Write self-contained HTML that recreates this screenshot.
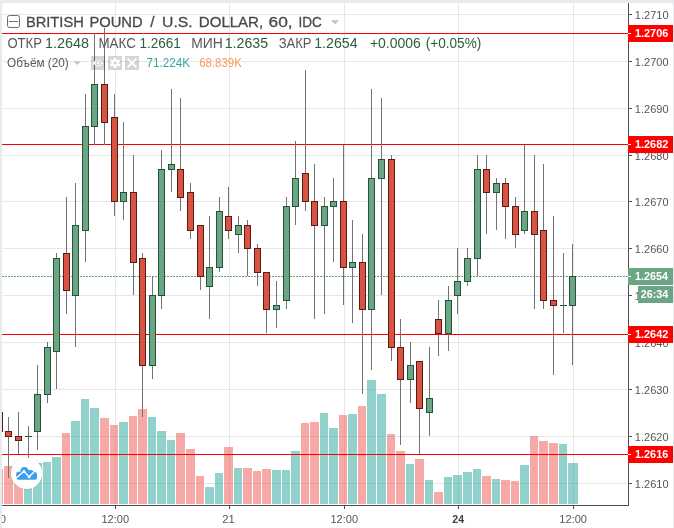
<!DOCTYPE html>
<html><head><meta charset="utf-8"><title>GBPUSD</title>
<style>html,body{margin:0;padding:0;background:#e7ebee;overflow:hidden;}body{width:674px;height:528px;font-family:"Liberation Sans",sans-serif;}svg{display:block;will-change:transform;}</style></head>
<body>
<svg width="674" height="528" viewBox="0 0 674 528" font-family="Liberation Sans, sans-serif">
<rect x="0" y="0" width="674" height="528" fill="#e7ebee"/>
<path d="M2 531V6a3 3 0 0 1 3-3H670a3 3 0 0 1 3 3V531Z" fill="#ffffff"/>
<g shape-rendering="crispEdges">
<rect x="3" y="14" width="624" height="1" fill="#e6e6e6"/>
<rect x="3" y="61" width="624" height="1" fill="#e6e6e6"/>
<rect x="3" y="108" width="624" height="1" fill="#e6e6e6"/>
<rect x="3" y="155" width="624" height="1" fill="#e6e6e6"/>
<rect x="3" y="201" width="624" height="1" fill="#e6e6e6"/>
<rect x="3" y="248" width="624" height="1" fill="#e6e6e6"/>
<rect x="3" y="295" width="624" height="1" fill="#e6e6e6"/>
<rect x="3" y="342" width="624" height="1" fill="#e6e6e6"/>
<rect x="3" y="389" width="624" height="1" fill="#e6e6e6"/>
<rect x="3" y="436" width="624" height="1" fill="#e6e6e6"/>
<rect x="3" y="483" width="624" height="1" fill="#e6e6e6"/>
<rect x="115" y="3" width="1" height="502" fill="#e6e6e6"/>
<rect x="229" y="3" width="1" height="502" fill="#e6e6e6"/>
<rect x="344" y="3" width="1" height="502" fill="#e6e6e6"/>
<rect x="458" y="3" width="1" height="502" fill="#e6e6e6"/>
<rect x="573" y="3" width="1" height="502" fill="#e6e6e6"/>
<rect x="2" y="469" width="1" height="35" fill="#ef5350" fill-opacity="0.5"/>
<rect x="4" y="466" width="9" height="38" fill="#ef5350" fill-opacity="0.5"/>
<rect x="14" y="467" width="9" height="37" fill="#ef5350" fill-opacity="0.5"/>
<rect x="24" y="465" width="8" height="39" fill="#26a69a" fill-opacity="0.5"/>
<rect x="33" y="463" width="9" height="41" fill="#26a69a" fill-opacity="0.5"/>
<rect x="43" y="462" width="8" height="42" fill="#26a69a" fill-opacity="0.5"/>
<rect x="52" y="457" width="9" height="47" fill="#26a69a" fill-opacity="0.5"/>
<rect x="62" y="433" width="8" height="71" fill="#ef5350" fill-opacity="0.5"/>
<rect x="71" y="421" width="9" height="83" fill="#26a69a" fill-opacity="0.5"/>
<rect x="81" y="399" width="8" height="105" fill="#26a69a" fill-opacity="0.5"/>
<rect x="90" y="408" width="9" height="96" fill="#26a69a" fill-opacity="0.5"/>
<rect x="100" y="418" width="9" height="86" fill="#ef5350" fill-opacity="0.5"/>
<rect x="110" y="425" width="8" height="79" fill="#ef5350" fill-opacity="0.5"/>
<rect x="119" y="422" width="9" height="82" fill="#26a69a" fill-opacity="0.5"/>
<rect x="129" y="416" width="8" height="88" fill="#ef5350" fill-opacity="0.5"/>
<rect x="138" y="409" width="9" height="95" fill="#ef5350" fill-opacity="0.5"/>
<rect x="148" y="417" width="8" height="87" fill="#26a69a" fill-opacity="0.5"/>
<rect x="157" y="431" width="9" height="73" fill="#26a69a" fill-opacity="0.5"/>
<rect x="167" y="440" width="8" height="64" fill="#26a69a" fill-opacity="0.5"/>
<rect x="176" y="433" width="9" height="71" fill="#ef5350" fill-opacity="0.5"/>
<rect x="186" y="449" width="9" height="55" fill="#ef5350" fill-opacity="0.5"/>
<rect x="196" y="476" width="8" height="28" fill="#ef5350" fill-opacity="0.5"/>
<rect x="205" y="487" width="9" height="17" fill="#26a69a" fill-opacity="0.5"/>
<rect x="215" y="473" width="8" height="31" fill="#26a69a" fill-opacity="0.5"/>
<rect x="224" y="447" width="9" height="57" fill="#ef5350" fill-opacity="0.5"/>
<rect x="234" y="468" width="8" height="36" fill="#26a69a" fill-opacity="0.5"/>
<rect x="243" y="468" width="9" height="36" fill="#ef5350" fill-opacity="0.5"/>
<rect x="253" y="471" width="8" height="33" fill="#ef5350" fill-opacity="0.5"/>
<rect x="262" y="469" width="9" height="35" fill="#ef5350" fill-opacity="0.5"/>
<rect x="272" y="470" width="9" height="34" fill="#26a69a" fill-opacity="0.5"/>
<rect x="282" y="470" width="8" height="34" fill="#26a69a" fill-opacity="0.5"/>
<rect x="291" y="451" width="9" height="53" fill="#26a69a" fill-opacity="0.5"/>
<rect x="301" y="423" width="8" height="81" fill="#ef5350" fill-opacity="0.5"/>
<rect x="310" y="422" width="9" height="82" fill="#ef5350" fill-opacity="0.5"/>
<rect x="320" y="413" width="8" height="91" fill="#26a69a" fill-opacity="0.5"/>
<rect x="329" y="428" width="9" height="76" fill="#26a69a" fill-opacity="0.5"/>
<rect x="339" y="415" width="8" height="89" fill="#ef5350" fill-opacity="0.5"/>
<rect x="348" y="414" width="9" height="90" fill="#26a69a" fill-opacity="0.5"/>
<rect x="358" y="406" width="8" height="98" fill="#ef5350" fill-opacity="0.5"/>
<rect x="367" y="380" width="9" height="124" fill="#26a69a" fill-opacity="0.5"/>
<rect x="377" y="394" width="9" height="110" fill="#26a69a" fill-opacity="0.5"/>
<rect x="387" y="434" width="8" height="70" fill="#ef5350" fill-opacity="0.5"/>
<rect x="396" y="451" width="9" height="53" fill="#ef5350" fill-opacity="0.5"/>
<rect x="406" y="464" width="8" height="40" fill="#26a69a" fill-opacity="0.5"/>
<rect x="415" y="459" width="9" height="45" fill="#ef5350" fill-opacity="0.5"/>
<rect x="425" y="480" width="8" height="24" fill="#26a69a" fill-opacity="0.5"/>
<rect x="434" y="492" width="9" height="12" fill="#ef5350" fill-opacity="0.5"/>
<rect x="444" y="477" width="8" height="27" fill="#26a69a" fill-opacity="0.5"/>
<rect x="453" y="475" width="9" height="29" fill="#26a69a" fill-opacity="0.5"/>
<rect x="463" y="472" width="9" height="32" fill="#26a69a" fill-opacity="0.5"/>
<rect x="473" y="469" width="8" height="35" fill="#26a69a" fill-opacity="0.5"/>
<rect x="482" y="476" width="9" height="28" fill="#ef5350" fill-opacity="0.5"/>
<rect x="492" y="479" width="8" height="25" fill="#26a69a" fill-opacity="0.5"/>
<rect x="501" y="480" width="9" height="24" fill="#ef5350" fill-opacity="0.5"/>
<rect x="511" y="481" width="8" height="23" fill="#ef5350" fill-opacity="0.5"/>
<rect x="520" y="465" width="9" height="39" fill="#26a69a" fill-opacity="0.5"/>
<rect x="530" y="436" width="8" height="68" fill="#ef5350" fill-opacity="0.5"/>
<rect x="539" y="441" width="9" height="63" fill="#ef5350" fill-opacity="0.5"/>
<rect x="549" y="443" width="9" height="61" fill="#ef5350" fill-opacity="0.5"/>
<rect x="559" y="444" width="8" height="60" fill="#26a69a" fill-opacity="0.5"/>
<rect x="568" y="463" width="10" height="41" fill="#26a69a" fill-opacity="0.5"/>
<rect x="2" y="33" width="626" height="1" fill="#ff0000"/>
<rect x="2" y="144" width="626" height="1" fill="#ff0000"/>
<rect x="2" y="334" width="626" height="1" fill="#ff0000"/>
<rect x="2" y="454" width="626" height="1" fill="#ff0000"/>
</g>
<line x1="2" y1="276.5" x2="628" y2="276.5" stroke="#5fa07a" stroke-width="1" stroke-dasharray="2 1" shape-rendering="crispEdges"/>
<g shape-rendering="crispEdges">
<rect x="2" y="412" width="1" height="20" fill="#5b1a13"/>
<rect x="8" y="417" width="1" height="61" fill="#737375"/>
<rect x="5" y="431" width="7" height="6" fill="#5b1a13"/>
<rect x="6" y="432" width="5" height="4" fill="#d75442"/>
<rect x="18" y="412" width="1" height="42" fill="#737375"/>
<rect x="15" y="436" width="7" height="5" fill="#5b1a13"/>
<rect x="16" y="437" width="5" height="3" fill="#d75442"/>
<rect x="28" y="426" width="1" height="33" fill="#737375"/>
<rect x="25" y="436" width="7" height="1" fill="#225437"/>
<rect x="37" y="365" width="1" height="85" fill="#737375"/>
<rect x="34" y="394" width="7" height="38" fill="#225437"/>
<rect x="35" y="395" width="5" height="36" fill="#6ba583"/>
<rect x="47" y="342" width="1" height="61" fill="#737375"/>
<rect x="44" y="347" width="7" height="48" fill="#225437"/>
<rect x="45" y="348" width="5" height="46" fill="#6ba583"/>
<rect x="56" y="253" width="1" height="136" fill="#737375"/>
<rect x="53" y="258" width="7" height="94" fill="#225437"/>
<rect x="54" y="259" width="5" height="92" fill="#6ba583"/>
<rect x="66" y="197" width="1" height="117" fill="#737375"/>
<rect x="63" y="253" width="7" height="38" fill="#5b1a13"/>
<rect x="64" y="254" width="5" height="36" fill="#d75442"/>
<rect x="75" y="183" width="1" height="164" fill="#737375"/>
<rect x="72" y="225" width="7" height="71" fill="#225437"/>
<rect x="73" y="226" width="5" height="69" fill="#6ba583"/>
<rect x="85" y="94" width="1" height="168" fill="#737375"/>
<rect x="82" y="126" width="7" height="105" fill="#225437"/>
<rect x="83" y="127" width="5" height="103" fill="#6ba583"/>
<rect x="94" y="33" width="1" height="112" fill="#737375"/>
<rect x="91" y="84" width="7" height="43" fill="#225437"/>
<rect x="92" y="85" width="5" height="41" fill="#6ba583"/>
<rect x="104" y="28" width="1" height="117" fill="#737375"/>
<rect x="101" y="84" width="7" height="39" fill="#5b1a13"/>
<rect x="102" y="85" width="5" height="37" fill="#d75442"/>
<rect x="114" y="94" width="1" height="122" fill="#737375"/>
<rect x="111" y="117" width="7" height="85" fill="#5b1a13"/>
<rect x="112" y="118" width="5" height="83" fill="#d75442"/>
<rect x="123" y="122" width="1" height="98" fill="#737375"/>
<rect x="120" y="192" width="7" height="10" fill="#225437"/>
<rect x="121" y="193" width="5" height="8" fill="#6ba583"/>
<rect x="133" y="155" width="1" height="140" fill="#737375"/>
<rect x="130" y="192" width="7" height="71" fill="#5b1a13"/>
<rect x="131" y="193" width="5" height="69" fill="#d75442"/>
<rect x="142" y="253" width="1" height="164" fill="#737375"/>
<rect x="139" y="258" width="7" height="108" fill="#5b1a13"/>
<rect x="140" y="259" width="5" height="106" fill="#d75442"/>
<rect x="152" y="276" width="1" height="103" fill="#737375"/>
<rect x="149" y="295" width="7" height="71" fill="#225437"/>
<rect x="150" y="296" width="5" height="69" fill="#6ba583"/>
<rect x="161" y="150" width="1" height="159" fill="#737375"/>
<rect x="158" y="169" width="7" height="127" fill="#225437"/>
<rect x="159" y="170" width="5" height="125" fill="#6ba583"/>
<rect x="171" y="89" width="1" height="103" fill="#737375"/>
<rect x="168" y="164" width="7" height="6" fill="#225437"/>
<rect x="169" y="165" width="5" height="4" fill="#6ba583"/>
<rect x="180" y="98" width="1" height="113" fill="#737375"/>
<rect x="177" y="169" width="7" height="29" fill="#5b1a13"/>
<rect x="178" y="170" width="5" height="27" fill="#d75442"/>
<rect x="190" y="183" width="1" height="56" fill="#737375"/>
<rect x="187" y="192" width="7" height="39" fill="#5b1a13"/>
<rect x="188" y="193" width="5" height="37" fill="#d75442"/>
<rect x="200" y="225" width="1" height="65" fill="#737375"/>
<rect x="197" y="225" width="7" height="52" fill="#5b1a13"/>
<rect x="198" y="226" width="5" height="50" fill="#d75442"/>
<rect x="209" y="216" width="1" height="103" fill="#737375"/>
<rect x="206" y="267" width="7" height="20" fill="#225437"/>
<rect x="207" y="268" width="5" height="18" fill="#6ba583"/>
<rect x="219" y="197" width="1" height="75" fill="#737375"/>
<rect x="216" y="211" width="7" height="57" fill="#225437"/>
<rect x="217" y="212" width="5" height="55" fill="#6ba583"/>
<rect x="228" y="187" width="1" height="52" fill="#737375"/>
<rect x="225" y="216" width="7" height="15" fill="#5b1a13"/>
<rect x="226" y="217" width="5" height="13" fill="#d75442"/>
<rect x="238" y="216" width="1" height="37" fill="#737375"/>
<rect x="235" y="225" width="7" height="10" fill="#225437"/>
<rect x="236" y="226" width="5" height="8" fill="#6ba583"/>
<rect x="247" y="220" width="1" height="56" fill="#737375"/>
<rect x="244" y="225" width="7" height="24" fill="#5b1a13"/>
<rect x="245" y="226" width="5" height="22" fill="#d75442"/>
<rect x="257" y="244" width="1" height="42" fill="#737375"/>
<rect x="254" y="248" width="7" height="25" fill="#5b1a13"/>
<rect x="255" y="249" width="5" height="23" fill="#d75442"/>
<rect x="266" y="272" width="1" height="61" fill="#737375"/>
<rect x="263" y="272" width="7" height="38" fill="#5b1a13"/>
<rect x="264" y="273" width="5" height="36" fill="#d75442"/>
<rect x="276" y="281" width="1" height="47" fill="#737375"/>
<rect x="273" y="305" width="7" height="5" fill="#225437"/>
<rect x="274" y="306" width="5" height="3" fill="#6ba583"/>
<rect x="286" y="197" width="1" height="112" fill="#737375"/>
<rect x="283" y="206" width="7" height="95" fill="#225437"/>
<rect x="284" y="207" width="5" height="93" fill="#6ba583"/>
<rect x="295" y="141" width="1" height="84" fill="#737375"/>
<rect x="292" y="178" width="7" height="29" fill="#225437"/>
<rect x="293" y="179" width="5" height="27" fill="#6ba583"/>
<rect x="305" y="70" width="1" height="141" fill="#737375"/>
<rect x="302" y="173" width="7" height="29" fill="#5b1a13"/>
<rect x="303" y="174" width="5" height="27" fill="#d75442"/>
<rect x="314" y="164" width="1" height="155" fill="#737375"/>
<rect x="311" y="201" width="7" height="25" fill="#5b1a13"/>
<rect x="312" y="202" width="5" height="23" fill="#d75442"/>
<rect x="324" y="197" width="1" height="117" fill="#737375"/>
<rect x="321" y="206" width="7" height="20" fill="#225437"/>
<rect x="322" y="207" width="5" height="18" fill="#6ba583"/>
<rect x="333" y="178" width="1" height="84" fill="#737375"/>
<rect x="330" y="201" width="7" height="6" fill="#225437"/>
<rect x="331" y="202" width="5" height="4" fill="#6ba583"/>
<rect x="343" y="145" width="1" height="160" fill="#737375"/>
<rect x="340" y="201" width="7" height="67" fill="#5b1a13"/>
<rect x="341" y="202" width="5" height="65" fill="#d75442"/>
<rect x="352" y="220" width="1" height="103" fill="#737375"/>
<rect x="349" y="262" width="7" height="6" fill="#225437"/>
<rect x="350" y="263" width="5" height="4" fill="#6ba583"/>
<rect x="362" y="234" width="1" height="160" fill="#737375"/>
<rect x="359" y="262" width="7" height="48" fill="#5b1a13"/>
<rect x="360" y="263" width="5" height="46" fill="#d75442"/>
<rect x="371" y="89" width="1" height="281" fill="#737375"/>
<rect x="368" y="178" width="7" height="132" fill="#225437"/>
<rect x="369" y="179" width="5" height="130" fill="#6ba583"/>
<rect x="381" y="98" width="1" height="197" fill="#737375"/>
<rect x="378" y="159" width="7" height="20" fill="#225437"/>
<rect x="379" y="160" width="5" height="18" fill="#6ba583"/>
<rect x="391" y="155" width="1" height="206" fill="#737375"/>
<rect x="388" y="159" width="7" height="189" fill="#5b1a13"/>
<rect x="389" y="160" width="5" height="187" fill="#d75442"/>
<rect x="400" y="319" width="1" height="126" fill="#737375"/>
<rect x="397" y="347" width="7" height="33" fill="#5b1a13"/>
<rect x="398" y="348" width="5" height="31" fill="#d75442"/>
<rect x="410" y="342" width="1" height="61" fill="#737375"/>
<rect x="407" y="365" width="7" height="15" fill="#225437"/>
<rect x="408" y="366" width="5" height="13" fill="#6ba583"/>
<rect x="419" y="361" width="1" height="93" fill="#737375"/>
<rect x="416" y="361" width="7" height="48" fill="#5b1a13"/>
<rect x="417" y="362" width="5" height="46" fill="#d75442"/>
<rect x="429" y="347" width="1" height="89" fill="#737375"/>
<rect x="426" y="398" width="7" height="15" fill="#225437"/>
<rect x="427" y="399" width="5" height="13" fill="#6ba583"/>
<rect x="438" y="300" width="1" height="56" fill="#737375"/>
<rect x="435" y="319" width="7" height="15" fill="#5b1a13"/>
<rect x="436" y="320" width="5" height="13" fill="#d75442"/>
<rect x="448" y="286" width="1" height="65" fill="#737375"/>
<rect x="445" y="300" width="7" height="34" fill="#225437"/>
<rect x="446" y="301" width="5" height="32" fill="#6ba583"/>
<rect x="457" y="248" width="1" height="66" fill="#737375"/>
<rect x="454" y="281" width="7" height="15" fill="#225437"/>
<rect x="455" y="282" width="5" height="13" fill="#6ba583"/>
<rect x="467" y="248" width="1" height="38" fill="#737375"/>
<rect x="464" y="258" width="7" height="24" fill="#225437"/>
<rect x="465" y="259" width="5" height="22" fill="#6ba583"/>
<rect x="477" y="155" width="1" height="121" fill="#737375"/>
<rect x="474" y="169" width="7" height="90" fill="#225437"/>
<rect x="475" y="170" width="5" height="88" fill="#6ba583"/>
<rect x="486" y="155" width="1" height="79" fill="#737375"/>
<rect x="483" y="169" width="7" height="24" fill="#5b1a13"/>
<rect x="484" y="170" width="5" height="22" fill="#d75442"/>
<rect x="496" y="178" width="1" height="52" fill="#737375"/>
<rect x="493" y="183" width="7" height="10" fill="#225437"/>
<rect x="494" y="184" width="5" height="8" fill="#6ba583"/>
<rect x="505" y="178" width="1" height="61" fill="#737375"/>
<rect x="502" y="183" width="7" height="24" fill="#5b1a13"/>
<rect x="503" y="184" width="5" height="22" fill="#d75442"/>
<rect x="515" y="197" width="1" height="51" fill="#737375"/>
<rect x="512" y="206" width="7" height="29" fill="#5b1a13"/>
<rect x="513" y="207" width="5" height="27" fill="#d75442"/>
<rect x="524" y="145" width="1" height="89" fill="#737375"/>
<rect x="521" y="211" width="7" height="20" fill="#225437"/>
<rect x="522" y="212" width="5" height="18" fill="#6ba583"/>
<rect x="534" y="155" width="1" height="154" fill="#737375"/>
<rect x="531" y="211" width="7" height="24" fill="#5b1a13"/>
<rect x="532" y="212" width="5" height="22" fill="#d75442"/>
<rect x="543" y="164" width="1" height="145" fill="#737375"/>
<rect x="540" y="230" width="7" height="71" fill="#5b1a13"/>
<rect x="541" y="231" width="5" height="69" fill="#d75442"/>
<rect x="553" y="216" width="1" height="159" fill="#737375"/>
<rect x="550" y="300" width="7" height="6" fill="#5b1a13"/>
<rect x="551" y="301" width="5" height="4" fill="#d75442"/>
<rect x="563" y="253" width="1" height="80" fill="#737375"/>
<rect x="560" y="305" width="7" height="1" fill="#225437"/>
<rect x="572" y="244" width="1" height="121" fill="#737375"/>
<rect x="569" y="276" width="7" height="30" fill="#225437"/>
<rect x="570" y="277" width="5" height="28" fill="#6ba583"/>
<rect x="628" y="3" width="1" height="503" fill="#4e4e4e"/>
<rect x="2" y="505" width="627" height="1" fill="#4e4e4e"/>
<rect x="629" y="14" width="3" height="1" fill="#4e4e4e"/>
<rect x="629" y="61" width="3" height="1" fill="#4e4e4e"/>
<rect x="629" y="108" width="3" height="1" fill="#4e4e4e"/>
<rect x="629" y="155" width="3" height="1" fill="#4e4e4e"/>
<rect x="629" y="201" width="3" height="1" fill="#4e4e4e"/>
<rect x="629" y="248" width="3" height="1" fill="#4e4e4e"/>
<rect x="629" y="295" width="3" height="1" fill="#4e4e4e"/>
<rect x="629" y="342" width="3" height="1" fill="#4e4e4e"/>
<rect x="629" y="389" width="3" height="1" fill="#4e4e4e"/>
<rect x="629" y="436" width="3" height="1" fill="#4e4e4e"/>
<rect x="629" y="483" width="3" height="1" fill="#4e4e4e"/>
<rect x="115" y="506" width="1" height="3" fill="#4e4e4e"/>
<rect x="229" y="506" width="1" height="3" fill="#4e4e4e"/>
<rect x="344" y="506" width="1" height="3" fill="#4e4e4e"/>
<rect x="458" y="506" width="1" height="3" fill="#4e4e4e"/>
<rect x="573" y="506" width="1" height="3" fill="#4e4e4e"/>
</g>
<text x="634.87" y="18.5" font-size="11" fill="#555555" textLength="33.65" lengthAdjust="spacingAndGlyphs">1.2710</text>
<text x="634.87" y="65.5" font-size="11" fill="#555555" textLength="33.65" lengthAdjust="spacingAndGlyphs">1.2700</text>
<text x="634.87" y="112.5" font-size="11" fill="#555555" textLength="33.65" lengthAdjust="spacingAndGlyphs">1.2690</text>
<text x="634.87" y="159.5" font-size="11" fill="#555555" textLength="33.65" lengthAdjust="spacingAndGlyphs">1.2680</text>
<text x="634.87" y="205.5" font-size="11" fill="#555555" textLength="33.65" lengthAdjust="spacingAndGlyphs">1.2670</text>
<text x="634.87" y="252.5" font-size="11" fill="#555555" textLength="33.65" lengthAdjust="spacingAndGlyphs">1.2660</text>
<text x="634.87" y="299.5" font-size="11" fill="#555555" textLength="33.65" lengthAdjust="spacingAndGlyphs">1.2650</text>
<text x="634.87" y="346.5" font-size="11" fill="#555555" textLength="33.65" lengthAdjust="spacingAndGlyphs">1.2640</text>
<text x="634.87" y="393.5" font-size="11" fill="#555555" textLength="33.65" lengthAdjust="spacingAndGlyphs">1.2630</text>
<text x="634.87" y="440.5" font-size="11" fill="#555555" textLength="33.65" lengthAdjust="spacingAndGlyphs">1.2620</text>
<text x="634.87" y="487.5" font-size="11" fill="#555555" textLength="33.65" lengthAdjust="spacingAndGlyphs">1.2610</text>
<rect x="628" y="25" width="45" height="17" fill="#ff0000" shape-rendering="crispEdges"/>
<rect x="628" y="33" width="3" height="1" fill="#fff" shape-rendering="crispEdges"/>
<text x="634.92" y="37.4" font-size="11" fill="#fff" font-weight="bold" textLength="33.38" lengthAdjust="spacingAndGlyphs">1.2706</text>
<rect x="628" y="136" width="45" height="17" fill="#ff0000" shape-rendering="crispEdges"/>
<rect x="628" y="144" width="3" height="1" fill="#fff" shape-rendering="crispEdges"/>
<text x="634.92" y="148.4" font-size="11" fill="#fff" font-weight="bold" textLength="33.41" lengthAdjust="spacingAndGlyphs">1.2682</text>
<rect x="628" y="326" width="45" height="17" fill="#ff0000" shape-rendering="crispEdges"/>
<rect x="628" y="334" width="3" height="1" fill="#fff" shape-rendering="crispEdges"/>
<text x="634.92" y="338.4" font-size="11" fill="#fff" font-weight="bold" textLength="33.41" lengthAdjust="spacingAndGlyphs">1.2642</text>
<rect x="628" y="446" width="45" height="17" fill="#ff0000" shape-rendering="crispEdges"/>
<rect x="628" y="454" width="3" height="1" fill="#fff" shape-rendering="crispEdges"/>
<text x="634.92" y="458.4" font-size="11" fill="#fff" font-weight="bold" textLength="33.38" lengthAdjust="spacingAndGlyphs">1.2616</text>
<rect x="628" y="268" width="45" height="17" fill="#6ba583" shape-rendering="crispEdges"/>
<rect x="628" y="276" width="3" height="1" fill="#fff" shape-rendering="crispEdges"/>
<text x="634.92" y="280.4" font-size="11" fill="#fff" font-weight="bold" textLength="33.04" lengthAdjust="spacingAndGlyphs">1.2654</text>
<rect x="638" y="286" width="35" height="17" fill="#6ba583" shape-rendering="crispEdges"/>
<text x="640.72" y="298.4" font-size="11" fill="#fff" font-weight="bold" textLength="27.63" lengthAdjust="spacingAndGlyphs">26:34</text>
<text x="101.47" y="523" font-size="11" fill="#555555" textLength="27.54" lengthAdjust="spacingAndGlyphs">12:00</text>
<text x="222.34" y="523" font-size="11" fill="#555555" textLength="12.52" lengthAdjust="spacingAndGlyphs">21</text>
<text x="330.47" y="523" font-size="11" fill="#555555" textLength="27.54" lengthAdjust="spacingAndGlyphs">12:00</text>
<text x="452.33" y="523" font-size="11" fill="#404040" font-weight="bold" textLength="11.64" lengthAdjust="spacingAndGlyphs">24</text>
<text x="559.37" y="523" font-size="11" fill="#555555" textLength="27.64" lengthAdjust="spacingAndGlyphs">12:00</text>
<clipPath id="cl"><rect x="2" y="506" width="20" height="22"/></clipPath>
<text x="-6.46" y="523" font-size="11" fill="#555555" clip-path="url(#cl)" textLength="12.40" lengthAdjust="spacingAndGlyphs">20</text>
<rect x="7.5" y="15.5" width="12" height="12" rx="2" ry="2" fill="#fff" fill-opacity="0.6" stroke="#6e6e6e" stroke-width="1"/>
<rect x="9" y="21" width="9" height="1" fill="#6e6e6e" shape-rendering="crispEdges"/>
<text x="25.89" y="27.3" font-size="15.5" fill="#4a4a4a" stroke="#4a4a4a" stroke-width="0.3" textLength="57.92" lengthAdjust="spacingAndGlyphs">BRITISH</text>
<text x="89.38" y="27.3" font-size="15.5" fill="#4a4a4a" stroke="#4a4a4a" stroke-width="0.3" textLength="53.30" lengthAdjust="spacingAndGlyphs">POUND</text>
<text x="152.35" y="27.3" font-size="15.5" fill="#4a4a4a" stroke="#4a4a4a" stroke-width="0.3" text-anchor="middle">/</text>
<text x="162.08" y="27.3" font-size="15.5" fill="#4a4a4a" stroke="#4a4a4a" stroke-width="0.3" textLength="30.53" lengthAdjust="spacingAndGlyphs">U.S.</text>
<text x="198.86" y="27.3" font-size="15.5" fill="#4a4a4a" stroke="#4a4a4a" stroke-width="0.3" textLength="64.28" lengthAdjust="spacingAndGlyphs">DOLLAR,</text>
<text x="268.53" y="27.3" font-size="15.5" fill="#4a4a4a" stroke="#4a4a4a" stroke-width="0.3" textLength="24.13" lengthAdjust="spacingAndGlyphs">60,</text>
<text x="298.45" y="27.3" font-size="15.5" fill="#4a4a4a" stroke="#4a4a4a" stroke-width="0.3" textLength="23.36" lengthAdjust="spacingAndGlyphs">IDC</text>
<path d="M330.8 20.2h8.4l-4.2 4z" fill="#c2c2c2"/>
<text x="7.38" y="47.8" font-size="14" fill="#575757" textLength="34.59" lengthAdjust="spacingAndGlyphs">ОТКР</text>
<text x="44.92" y="47.8" font-size="14" fill="#2a5c40" textLength="44.01" lengthAdjust="spacingAndGlyphs">1.2648</text>
<text x="98.50" y="47.8" font-size="14" fill="#575757" textLength="37.28" lengthAdjust="spacingAndGlyphs">МАКС</text>
<text x="139.38" y="47.8" font-size="14" fill="#2a5c40" textLength="41.48" lengthAdjust="spacingAndGlyphs">1.2661</text>
<text x="191.15" y="47.8" font-size="14" fill="#575757" textLength="31.58" lengthAdjust="spacingAndGlyphs">МИН</text>
<text x="224.73" y="47.8" font-size="14" fill="#2a5c40" textLength="43.45" lengthAdjust="spacingAndGlyphs">1.2635</text>
<text x="278.68" y="47.8" font-size="14" fill="#575757" textLength="32.92" lengthAdjust="spacingAndGlyphs">ЗАКР</text>
<text x="314.23" y="47.8" font-size="14" fill="#2a5c40" textLength="43.47" lengthAdjust="spacingAndGlyphs">1.2654</text>
<text x="369.94" y="47.8" font-size="14" fill="#2a5c40" textLength="50.86" lengthAdjust="spacingAndGlyphs">+0.0006</text>
<text x="425.65" y="47.8" font-size="14" fill="#2a5c40" textLength="55.68" lengthAdjust="spacingAndGlyphs">(+0.05%)</text>
<text x="7.04" y="67" font-size="12.5" fill="#5a5a5a" textLength="61.76" lengthAdjust="spacingAndGlyphs">Объём (20)</text>
<path d="M73.3 61.3h7.8l-3.9 3.6z" fill="#c8c8c8"/>
<rect x="91" y="56" width="14" height="14" fill="#000" fill-opacity="0.16" shape-rendering="crispEdges"/>
<rect x="108" y="56" width="14" height="14" fill="#000" fill-opacity="0.16" shape-rendering="crispEdges"/>
<rect x="125" y="56" width="14" height="14" fill="#000" fill-opacity="0.16" shape-rendering="crispEdges"/>
<path d="M92.7 63Q98 56 103.1 63Q98 70 92.7 63Z" fill="#fff"/><circle cx="98.1" cy="62.9" r="2.7" fill="#d4d4d4"/><circle cx="98.1" cy="62.9" r="1.2" fill="#fff"/>
<g transform="translate(115.1 63)" fill="#fff"><circle r="3.6"/><rect x="-1.25" y="-5.3" width="2.5" height="10.6" transform="rotate(0)"/><rect x="-1.25" y="-5.3" width="2.5" height="10.6" transform="rotate(60)"/><rect x="-1.25" y="-5.3" width="2.5" height="10.6" transform="rotate(120)"/><circle r="1.5" fill="#d0d0d0"/></g>
<path d="M127.6 58.6l8.8 8.8M136.4 58.6l-8.8 8.8" stroke="#fff" stroke-width="2" fill="none"/>
<text x="146.41" y="67" font-size="12" fill="#35a69c" textLength="43.64" lengthAdjust="spacingAndGlyphs">71.224K</text>
<text x="199.23" y="67" font-size="12" fill="#f9995a" textLength="42.62" lengthAdjust="spacingAndGlyphs">68.839K</text>
<circle cx="26.6" cy="473.3" r="16.4" fill="#000" fill-opacity="0.09"/>
<circle cx="26.6" cy="473.3" r="15.7" fill="#fff"/>
<path d="M18.8 479.7A2.7 2.7 0 0 1 16.1 477V474.4A2.6 2.6 0 0 1 18.7 471.8H20.4A4.15 4.15 0 0 1 28.6 470.4A3.4 3.4 0 0 1 33.3 471.3A4 4 0 0 1 37.1 476V477.2A2.5 2.5 0 0 1 34.6 479.7Z" fill="#3a9fea"/>
<path d="M15.4 478.4L23.9 471.4L29.1 476.8L35.8 470.1" stroke="#fff" stroke-width="1.3" fill="none"/>
<circle cx="23.9" cy="471.5" r="1.5" fill="#fff"/><circle cx="29.1" cy="476.7" r="1.5" fill="#fff"/>
</svg>
</body></html>
